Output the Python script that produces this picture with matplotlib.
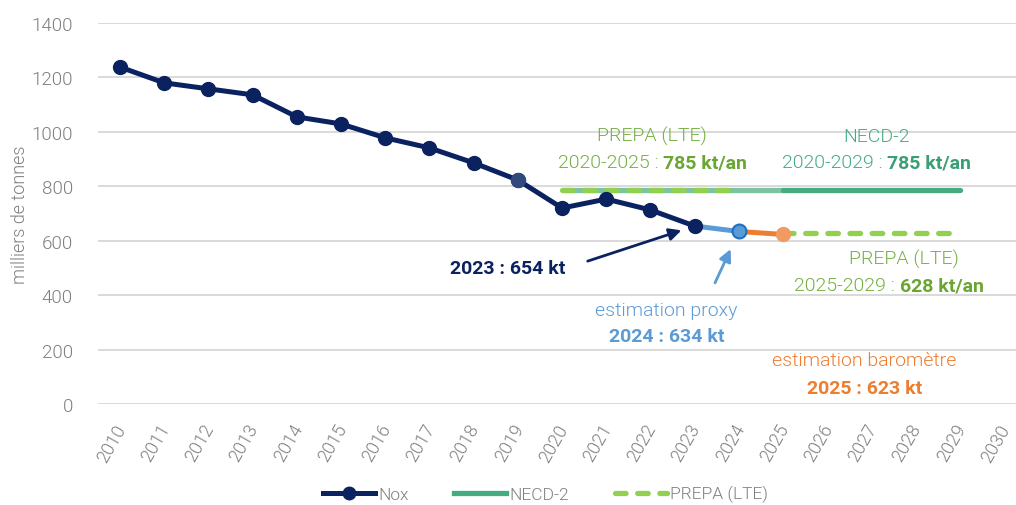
import matplotlib
matplotlib.use("Agg")
import matplotlib.pyplot as plt
from matplotlib.lines import Line2D
from matplotlib.offsetbox import TextArea, HPacker, AnnotationBbox

plt.rcParams['font.family'] = ['Roboto', 'DejaVu Sans']

# data
years_hist = list(range(2010, 2024))
nox_hist = [1238, 1180, 1158, 1136, 1055, 1029, 978, 941, 886, 823, 720, 753, 713, 654]
year_proxy, nox_proxy = 2024, 634
year_baro, nox_baro = 2025, 623
necd_years = [2020, 2025, 2029]
necd_values = [785, 785, 785]
prepa1_years = [2020, 2024]
prepa1_values = [785, 785]
prepa2_years = [2025, 2029]
prepa2_values = [628, 628]
xticks = list(range(2010, 2031))

NAVY = '#0b2260'
TEAL = '#45ac80'
TEAL_LIGHT = '#7cc3a2'
LGREEN = '#92d050'
TGREEN = '#76b043'
BLUE = '#5b9bd5'
ORANGE = '#ed7d31'
GRAY = '#7f7f7f'
LIGHT = 300

fig = plt.figure(figsize=(10.16, 5.06), dpi=100)
ax = fig.add_axes([0.0964, 0.1996, 0.9136, 0.753])

# NECD-2 target line
ax.plot(necd_years[:2], necd_values[:2], color=TEAL_LIGHT, lw=3.8, solid_capstyle='butt', zorder=2)
ax.plot(necd_years[1:], necd_values[1:], color=TEAL, lw=3.8, solid_capstyle='round', zorder=2)
# PREPA dashed lines
dash_kw = dict(color=LGREEN, lw=3.8, dashes=(2, 2.2), dash_capstyle='round', zorder=3)
ax.plot(prepa1_years, prepa1_values, **dash_kw)
ax.plot(prepa2_years, prepa2_values, **dash_kw)

# Nox history
ax.plot(years_hist, nox_hist, color=NAVY, lw=3.6, marker='o', ms=10, zorder=5)
ax.plot([years_hist[9]], [nox_hist[9]], 'o', color='#33497c', ms=10, zorder=6)
# proxy and barometre extensions
ax.plot([years_hist[-1], year_proxy], [nox_hist[-1], nox_proxy], color=BLUE, lw=3.6, zorder=4)
ax.plot([year_proxy, year_baro], [nox_proxy, nox_baro], color=ORANGE, lw=3.6, zorder=4)
ax.plot([year_proxy], [nox_proxy], 'o', ms=10, mfc=BLUE, mec='#1f6fc0', mew=1.5, zorder=6)
ax.plot([year_baro], [nox_baro], 'o', ms=10, mfc='#f19a62', mec='#f19a62', zorder=6)

ax.set_xlim(2009.5, 2030.5)
ax.set_ylim(0, 1400)
ax.set_yticks(range(0, 1401, 200))
ax.set_yticklabels([str(v) for v in range(0, 1401, 200)], fontsize=13.5, color=GRAY, fontweight=LIGHT)
# rotated labels sit a little left of each year, as in the original
ax.set_xticks([y - 0.14 for y in xticks])
ax.set_xticklabels([str(y) for y in xticks], rotation=60, ha='right', va='top',
                   rotation_mode='anchor', fontsize=13, color=GRAY, fontweight=LIGHT)
ax.tick_params(axis='y', length=0, pad=18)
ax.tick_params(axis='x', length=0, pad=12)
ax.grid(axis='y', color='#d9d9d9', lw=1.4)
ax.set_axisbelow(True)
for s in ax.spines.values():
    s.set_visible(False)
ax.set_ylabel('milliers de tonnes', fontsize=13, color=GRAY, labelpad=2, fontweight=LIGHT)


def mixed(x, y, parts, size=14):
    boxes = [TextArea(t, textprops=dict(color=c, fontsize=size, fontweight=w))
             for t, c, w in parts]
    box = HPacker(children=boxes, align='baseline', pad=0, sep=0)
    ab = AnnotationBbox(box, (x, y), xycoords='data', frameon=False,
                        box_alignment=(0.5, 0.5), pad=0, zorder=7)
    ax.add_artist(ab)


# PREPA 2020-2025 label
mixed(2022.04, 985, [('PREPA (LTE)', TGREEN, LIGHT)])
mixed(2022.04, 889, [('2020-2025 : ', TGREEN, LIGHT), ('785 kt/an', '#6aa632', 'bold')])
# NECD-2 label
mixed(2027.11, 985, [('NECD-2', TEAL, LIGHT)])
mixed(2027.11, 889, [('2020-2029 : ', TEAL, LIGHT), ('785 kt/an', '#3a9f74', 'bold')])
# PREPA 2025-2029 label
mixed(2027.74, 533, [('PREPA (LTE)', TGREEN, LIGHT)])
mixed(2027.4, 437, [('2025-2029 : ', TGREEN, LIGHT), ('628 kt/an', '#6aa632', 'bold')])
# 2023
mixed(2018.78, 500, [('2023 : 654 kt', NAVY, 'bold')])
# proxy
mixed(2022.36, 345, [('estimation proxy', BLUE, LIGHT)])
mixed(2022.36, 250, [('2024 : 634 kt', BLUE, 'bold')])
# barometre
mixed(2026.84, 162, [('estimation baromètre', ORANGE, LIGHT)])
mixed(2026.84, 59, [('2025 : 623 kt', ORANGE, 'bold')])

ax.annotate('', xy=(years_hist[-1], nox_hist[-1]), xytext=(2020.58, 525),
            arrowprops=dict(arrowstyle='-|>', color=NAVY, lw=2, mutation_scale=18,
                            shrinkA=0, shrinkB=10), zorder=7)
ax.annotate('', xy=(year_proxy, nox_proxy), xytext=(2023.46, 445),
            arrowprops=dict(arrowstyle='-|>', color=BLUE, lw=2, mutation_scale=18,
                            shrinkA=0, shrinkB=14), zorder=7)

handles = [
    Line2D([], [], color=NAVY, lw=3.6, marker='o', ms=9),
    Line2D([], [], color=TEAL, lw=3.8),
    Line2D([], [], color=LGREEN, lw=3.8, dashes=(2, 2.2), dash_capstyle='round'),
]
leg = fig.legend(handles, ['Nox', 'NECD-2', 'PREPA (LTE)'], loc='center', bbox_to_anchor=(0.537, 0.022),
                 ncol=3, frameon=False, fontsize=12.5, labelcolor=GRAY, handlelength=3.0,
                 handletextpad=0.2, columnspacing=2.6)
for t in leg.get_texts():
    t.set_fontweight(LIGHT)

fig.savefig('out.png', dpi=100)
